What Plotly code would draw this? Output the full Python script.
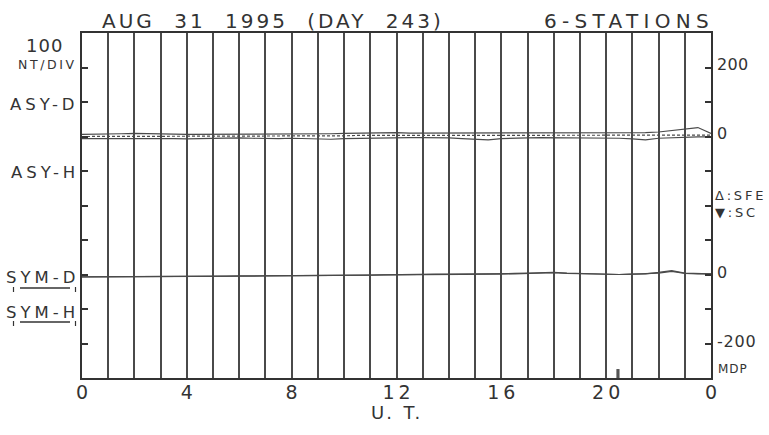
import plotly.graph_objects as go

# ---------------- data ----------------
hours = [i * 0.5 for i in range(49)]  # UT hours, half-hourly

# ASY panel (nT, relative to ASY zero line)
asy_upper = [6, 6, 7, 8, 9, 9, 8, 7, 6, 6, 6, 7, 7, 7, 7, 7, 7, 7, 7, 8,
             9, 10, 10, 11, 11, 10, 10, 10, 10, 10, 10, 10, 10, 10, 10, 10,
             10, 10, 11, 11, 10, 10, 10, 11, 13, 17, 21, 26, 9]
asy_lower = [-6, -6, -6, -5, -4, -4, -5, -6, -7, -6, -6, -5, -4, -5, -6, -6,
             -5, -6, -7, -8, -6, -5, -4, -3, -3, -3, -3, -3, -4, -6, -8, -10,
             -6, -4, -4, -3, -3, -3, -3, -3, -3, -5, -7, -10, -5, -3, -2, -1, -1]
asy_dashed = [0, 0, 1, 1, 1, 1, 1, 1, 1, 1, 1, 1, 2, 2, 2, 2, 2, 2, 2, 2,
              2, 3, 3, 3, 3, 3, 3, 3, 3, 3, 3, 3, 3, 3, 3, 3, 3, 3, 3, 3,
              3, 3, 3, 3, 4, 4, 4, 4, 4]

# SYM panel (nT)
sym_h = [-7, -7, -7, -7, -7, -7, -7, -7, -6, -6, -5, -5, -5, -5, -4, -4,
         -4, -4, -3, -3, -3, -3, -2, -1, 0, 1, 1, 1, 1, 1, 1, 1, 2, 3,
         4, 5, 6, 4, 3, 1, 0, 0, 1, 2, 6, 11, 4, 3, 2]
sym_d = [-7, -7, -7, -7, -7, -6, -6, -6, -6, -5, -5, -5, -4, -4, -4, -4,
         -3, -3, -3, -3, -3, -2, -2, -1, -1, 0, -1, -1, 0, 0, 0, 0, 1, 2,
         3, 4, 5, 3, 2, 1, 0, 0, 1, 2, 4, 9, 3, 2, 2]

# MDP marker
mdp_hour = [20.45]
mdp_value = [26]

hour_ticks = list(range(25))
hour_labels = {0: "0", 4: "4", 8: "8", 12: "12", 16: "16", 20: "20", 24: "0"}

# ---------------- layout constants ----------------
ASY_ZERO = 400      # ASY panel zero sits 4 divisions above SYM zero
Y_MIN, Y_MAX = -300, 700
FONT = "DejaVu Sans"
INK = "#333333"
LINE = "#4a4a4a"


def spaced(text, px, word=0):
    return f'<span style="letter-spacing:{px}px;word-spacing:{word}px">{text}</span>'


def px_x(p):   # pixel -> paper x
    return (p - 82) / 629.0


def px_y(p):   # pixel -> paper y
    return (378 - p) / 345.0


fig = go.Figure()

line_style = dict(color=LINE, width=1.2)
fig.add_trace(go.Scatter(x=hours, y=[ASY_ZERO + v for v in asy_upper], mode="lines",
                         line=line_style, name="ASY-D", hoverinfo="skip"))
fig.add_trace(go.Scatter(x=hours, y=[ASY_ZERO + v for v in asy_lower], mode="lines",
                         line=line_style, name="ASY-H", hoverinfo="skip"))
fig.add_trace(go.Scatter(x=hours, y=[ASY_ZERO + v for v in asy_dashed], mode="lines",
                         line=dict(color=LINE, width=1.2, dash="3px,2px"),
                         name="ASY ref", hoverinfo="skip"))
fig.add_trace(go.Scatter(x=hours, y=sym_d, mode="lines", line=line_style,
                         name="SYM-D", hoverinfo="skip"))
fig.add_trace(go.Scatter(x=hours, y=sym_h, mode="lines", line=line_style,
                         name="SYM-H", hoverinfo="skip"))
fig.add_trace(go.Bar(x=mdp_hour, y=mdp_value, base=Y_MIN, width=0.12,
                     marker=dict(color="#555555", line=dict(width=0)),
                     name="MDP", hoverinfo="skip"))

ann = []
# titles
ann.append(dict(text=spaced("AUG 31 1995 (DAY 243)", 3, 10), xref="paper", yref="paper",
                x=px_x(100), y=px_y(20.5), xanchor="left", yanchor="middle",
                font=dict(family=FONT, size=20, color=INK), showarrow=False))
ann.append(dict(text=spaced("6-STATIONS", 5.3), xref="paper", yref="paper",
                x=px_x(716), y=px_y(20.5), xanchor="right", yanchor="middle",
                font=dict(family=FONT, size=20, color=INK), showarrow=False))
# x-axis title
ann.append(dict(text=spaced("U. T.", 2, 2), xref="paper", yref="paper",
                x=px_x(397), y=px_y(412), xanchor="center", yanchor="middle",
                font=dict(family=FONT, size=18, color=INK), showarrow=False))
# left labels
ann.append(dict(text=spaced("100", 1), xref="paper", yref="paper",
                x=px_x(44.5), y=px_y(45), xanchor="center", yanchor="middle",
                font=dict(family=FONT, size=18, color=INK), showarrow=False))
ann.append(dict(text=spaced("NT/DIV", 2.6), xref="paper", yref="paper",
                x=px_x(47.5), y=px_y(64), xanchor="center", yanchor="middle",
                font=dict(family=FONT, size=12.5, color=INK), showarrow=False))
for txt, yv, ys in [("ASY-D", 500, -2), ("ASY-H", 300, -1.5),
                    ("SYM-D", 0, -3), ("SYM-H", -100, -3)]:
    ann.append(dict(text=spaced(txt, 4), xref="paper", yref="y",
                    x=px_x(81), y=yv, yshift=ys, xanchor="right", yanchor="middle",
                    font=dict(family=FONT, size=16.5, color=INK), showarrow=False))
# right labels
for txt, yv, ys, size, sp in [("200", ASY_ZERO + 200, 3, 16, 0.3),
                              ("0", ASY_ZERO, 3, 16, 0),
                              ("0", 0, 2, 16, 0),
                              ("-200", -200, 2.5, 16, 0.8)]:
    ann.append(dict(text=spaced(txt, sp), xref="paper", yref="y",
                    x=px_x(715), y=yv, yshift=ys, xanchor="left", yanchor="middle",
                    font=dict(family=FONT, size=size, color=INK), showarrow=False))
ann.append(dict(text=spaced("Δ:SFE", 2.8), xref="paper", yref="paper",
                x=px_x(713), y=px_y(195.5), xanchor="left", yanchor="middle",
                font=dict(family=FONT, size=13, color=INK), showarrow=False))
ann.append(dict(text=spaced("▼:SC", 2.8), xref="paper", yref="paper",
                x=px_x(713), y=px_y(212), xanchor="left", yanchor="middle",
                font=dict(family=FONT, size=13, color=INK), showarrow=False))
ann.append(dict(text=spaced("MDP", 1), xref="paper", yref="paper",
                x=px_x(716), y=px_y(369), xanchor="left", yanchor="middle",
                font=dict(family=FONT, size=12, color=INK), showarrow=False))

shapes = []
for ypx in (288, 322):
    shapes.append(dict(type="line", xref="paper", yref="paper",
                       x0=px_x(20), x1=px_x(70), y0=px_y(ypx), y1=px_y(ypx),
                       line=dict(color=INK, width=1.3)))
    for xpx in (13.5, 75.5):
        shapes.append(dict(type="line", xref="paper", yref="paper",
                           x0=px_x(xpx), x1=px_x(xpx), y0=px_y(ypx - 1), y1=px_y(ypx + 4),
                           line=dict(color=INK, width=1.2)))

fig.update_layout(
    width=769, height=435, autosize=False,
    margin=dict(l=82, r=58, t=33, b=57, pad=0),
    paper_bgcolor="white", plot_bgcolor="white",
    showlegend=False,
    annotations=ann, shapes=shapes,
    xaxis=dict(range=[0, 24], tickvals=hour_ticks,
               ticktext=[spaced(hour_labels[h], 4) if h in hour_labels else "" for h in hour_ticks],
               ticks="", showgrid=True, gridcolor=LINE, gridwidth=1.5,
               showline=True, linecolor=INK, linewidth=2, mirror=True,
               zeroline=False, ticklabelshift=2, ticklabelstandoff=-4,
               tickfont=dict(family=FONT, size=19, color=INK), fixedrange=True),
    yaxis=dict(range=[Y_MIN, Y_MAX], tickvals=list(range(-200, 700, 100)),
               showticklabels=False, ticks="inside", ticklen=6, tickwidth=1.5,
               tickcolor=INK, showgrid=False, zeroline=False,
               showline=True, linecolor=INK, linewidth=2, mirror="ticks",
               fixedrange=True),
)

fig.write_html("out.html", config={"displayModeBar": False},
               post_script="document.body.style.margin='0';")
